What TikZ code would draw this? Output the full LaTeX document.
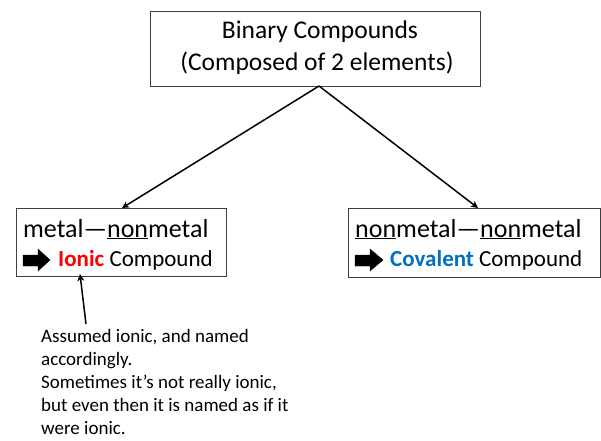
\documentclass[tikz,border=0pt]{standalone}
\usepackage{fontspec}
\setmainfont{Carlito}
\usetikzlibrary{arrows.meta}
\definecolor{ionred}{RGB}{255,0,0}
\definecolor{covblue}{RGB}{0,112,192}
\tikzset{
  box/.style={draw=black!75, line width=1pt, inner sep=0pt},
  conn/.style={line width=1.5pt, -{Stealth[length=7pt,width=7pt,inset=2pt]}},
  big/.style={font=\fontsize{26}{31}\selectfont, anchor=base west, inner sep=0pt},
  mid/.style={font=\fontsize{23}{27}\selectfont, anchor=base west, inner sep=0pt},
  note/.style={font=\fontsize{19}{23}\selectfont, anchor=north west, inner sep=0pt, align=left},
  blockarrow/.style={fill=black}
}
\begin{document}
\begin{tikzpicture}[x=1pt,y=-1pt]
\useasboundingbox (0,0) rectangle (601,440);
% boxes
\node[box, minimum width=330pt, minimum height=75pt] (top) at (315,48.5) {};
\node[box, minimum width=210pt, minimum height=68pt] (lbox) at (121,242) {};
\node[box, minimum width=252pt, minimum height=69pt] (rbox) at (474,242.5) {};
% top text
\node[font=\fontsize{25.5}{31}\selectfont, anchor=base, inner sep=0pt] (t1) at (320,38) {Binary Compounds};
\node[font=\fontsize{25.5}{31}\selectfont, anchor=base, inner sep=0pt] (t2) at (317,70) {(Composed of 2 elements)};
% left box text
\node[big] (l1) at (23,237) {metal—\underline{non}metal};
\draw[blockarrow] (23,255) -- (38,255) -- (38,249) -- (50,260) -- (38,271) -- (38,266) -- (23,266) -- cycle;
\node[mid] (l2) at (58,266) {\textcolor{ionred}{\bfseries Ionic} Compound};
% right box text
\node[big] (r1) at (355,237) {\underline{non}metal—\underline{non}metal};
\draw[blockarrow] (355,255) -- (370,255) -- (370,249) -- (383,260) -- (370,271) -- (370,266) -- (355,266) -- cycle;
\node[mid] (r2) at (390,266) {\textcolor{covblue}{\bfseries Covalent} Compound};
% connectors
\coordinate (tb) at (319,86);
\coordinate (lt) at (122,208);
\coordinate (rt) at (478,208);
\draw[conn] (tb) -- (lt);
\draw[conn] (tb) -- (rt);
% note
\node[note] (note) at (41,329) {Assumed ionic, and named\\accordingly.\\Sometimes it’s not really ionic,\\but even then it is named as if it\\were ionic.};
\coordinate (ntail) at (86,324);
\coordinate (ntip) at (80,274);
\draw[conn] (ntail) -- (ntip);
\end{tikzpicture}
\end{document}
